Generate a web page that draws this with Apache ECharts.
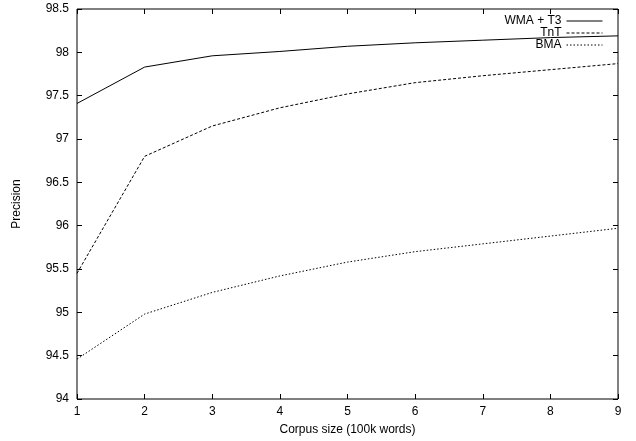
<!DOCTYPE html>
<html>
<head>
<meta charset="utf-8">
<script src="https://cdn.jsdelivr.net/npm/echarts@6/dist/echarts.min.js"></script>
<style>
  html, body { margin: 0; padding: 0; background: #fff; }
  #chart { width: 636px; height: 441px; }
</style>
</head>
<body>
<div id="chart"></div>
<script>
  // corpus size (100k words)
  const corpusSize = [1, 2, 3, 4, 5, 6, 7, 8, 9];
  // precision per tagger
  const wmaT3 = [97.41, 97.83, 97.96, 98.01, 98.07, 98.11, 98.14, 98.17, 98.19];
  const tnt   = [95.45, 96.80, 97.15, 97.36, 97.52, 97.65, 97.73, 97.80, 97.87];
  const bma   = [94.46, 94.98, 95.23, 95.42, 95.58, 95.70, 95.79, 95.88, 95.97];

  const font = 'Liberation Sans, Arial, sans-serif';
  const pairs = ys => corpusSize.map((x, i) => [x, ys[i]]);

  const chart = echarts.init(document.getElementById('chart'));

  // gnuplot style: ticks inside, mirrored on top and right
  const tick = { show: true, inside: true, length: 5, lineStyle: { color: '#000', width: 1 } };

  function mkSeries(name, ys, dash) {
    return {
      name: name,
      type: 'line',
      data: pairs(ys),
      symbol: 'none',
      lineStyle: { color: '#000', width: 1, type: dash },
      itemStyle: { color: '#000' },
      animation: false
    };
  }

  chart.setOption({
    animation: false,
    textStyle: { fontFamily: font },
    grid: {
      left: 77, right: 18, top: 9, bottom: 41,
      show: true, borderColor: '#000', borderWidth: 1
    },
    legend: {
      orient: 'vertical',
      right: 33, top: 15,
      padding: 0,
      align: 'right',
      itemWidth: 36, itemHeight: 13, itemGap: 0,
      itemStyle: { opacity: 0 },
      lineStyle: { width: 1 },
      textStyle: { fontFamily: font, fontSize: 12, color: '#000' },
      data: ['WMA + T3', 'TnT', 'BMA']
    },
    xAxis: [
      {
        type: 'value', min: 1, max: 9, interval: 1,
        name: 'Corpus size (100k words)', nameLocation: 'middle', nameGap: 25,
        nameTextStyle: { fontFamily: font, fontSize: 12, color: '#000' },
        axisLine: { show: false },
        axisTick: tick,
        axisLabel: { fontFamily: font, fontSize: 12, color: '#000', margin: 7 },
        splitLine: { show: false }
      },
      {
        type: 'value', min: 1, max: 9, interval: 1, position: 'top',
        axisLine: { show: false }, axisTick: tick,
        axisLabel: { show: false }, splitLine: { show: false }
      }
    ],
    yAxis: [
      {
        type: 'value', min: 94, max: 98.5, interval: 0.5,
        name: 'Precision', nameLocation: 'middle', nameGap: 54,
        nameTextStyle: { fontFamily: font, fontSize: 12, color: '#000' },
        axisLine: { show: false },
        axisTick: tick,
        axisLabel: { fontFamily: font, fontSize: 12, color: '#000', margin: 8 },
        splitLine: { show: false }
      },
      {
        type: 'value', min: 94, max: 98.5, interval: 0.5, position: 'right',
        axisLine: { show: false }, axisTick: tick,
        axisLabel: { show: false }, splitLine: { show: false }
      }
    ],
    series: [
      mkSeries('WMA + T3', wmaT3, 'solid'),
      mkSeries('TnT', tnt, [3, 2]),
      mkSeries('BMA', bma, [1.5, 2])
    ]
  });
</script>
</body>
</html>
